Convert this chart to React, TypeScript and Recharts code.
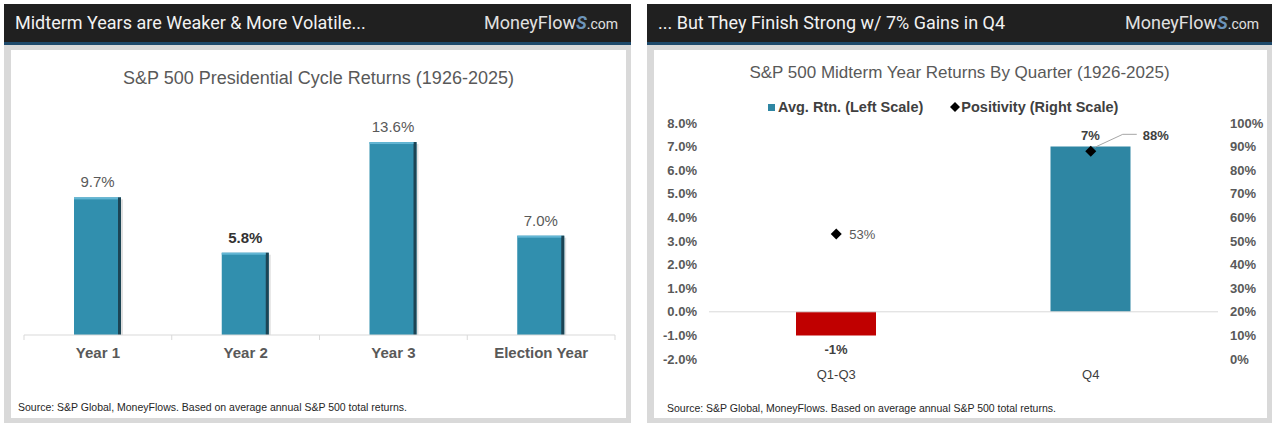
import React from 'react';
import {
  BarChart,
  ComposedChart,
  Bar,
  Scatter,
  XAxis,
  YAxis,
  LabelList,
  ReferenceLine,
  Cell
} from 'recharts';

// presidential cycle (left panel)
const cycleYears = ['Year 1', 'Year 2', 'Year 3', 'Election Year'];
const cycleReturns = [9.7, 5.8, 13.6, 7.0];

// midterm year by quarter (right panel)
const quarters = ['Q1-Q3', 'Q4'];
const quarterReturns = [-1, 7];
const quarterPositivity = [53, 88];
const returnTicks = [-2, -1, 0, 1, 2, 3, 4, 5, 6, 7, 8];
const positivityTicks = [0, 10, 20, 30, 40, 50, 60, 70, 80, 90, 100];

const FONT = '"Liberation Sans", Arial, sans-serif';
const TEAL = '#318fae';
const TEAL_Q4 = '#2e86a3';
const RED = '#c00000';
const GREY_TXT = '#595959';

const cycleData = cycleYears.map((name, i) => ({ name, value: cycleReturns[i] }));
const quarterData = quarters.map((name, i) => ({
  name,
  ret: quarterReturns[i],
  pos: quarterPositivity[i]
}));

function Panel(props: { left: number; width: number; heading: string; children?: React.ReactNode }) {
  return (
    <div
      style={{
        position: 'absolute',
        left: props.left,
        top: 4,
        width: props.width,
        height: 419,
        background: '#d9d9d9'
      }}
    >
      <div
        style={{
          position: 'absolute',
          left: 0,
          top: 0,
          width: props.width,
          height: 38,
          background: '#202020',
          borderBottom: '3px solid #1e4a6b'
        }}
      >
        <div
          style={{
            position: 'absolute',
            left: 11,
            top: 8,
            fontFamily: 'Roboto, sans-serif',
            fontSize: 18,
            color: '#f2f2f2',
            whiteSpace: 'nowrap'
          }}
        >
          {props.heading}
        </div>
        <div
          style={{
            position: 'absolute',
            right: 13,
            top: 8,
            fontFamily: 'Roboto, sans-serif',
            fontSize: 18,
            color: '#e0e0e0',
            whiteSpace: 'nowrap'
          }}
        >
          MoneyFlow
          <span style={{ color: '#6d95bb', fontStyle: 'italic', fontWeight: 700 }}>S</span>
          <span style={{ fontSize: 14 }}>.com</span>
        </div>
      </div>
      <div
        style={{
          position: 'absolute',
          left: 7,
          top: 46,
          width: props.width - 12,
          height: 368,
          background: '#ffffff'
        }}
      />
      {props.children}
    </div>
  );
}

function ShadedBar(props: any) {
  const { x, y, width, height } = props;
  if (!height) return null;
  return (
    <g>
      <rect x={x + 2} y={y + 2} width={width} height={height - 2} fill='#000' opacity={0.12} />
      <rect x={x} y={y} width={width} height={height} fill={TEAL} />
      <rect x={x + width - 3} y={y} width={3} height={height} fill='#1c4454' />
      <rect x={x} y={y} width={width - 3} height={2} fill='#63b6d4' />
    </g>
  );
}

function CycleLabel(props: any) {
  const { x, y, width, value, index } = props;
  const bold = index === 1;
  return (
    <text
      x={x + width / 2}
      y={y - 10}
      textAnchor='middle'
      fontFamily={FONT}
      fontSize={15}
      fontWeight={bold ? 700 : 400}
      fill={bold ? '#333' : GREY_TXT}
    >
      {value.toFixed(1)}%
    </text>
  );
}

function CycleTick(props: any) {
  const { x, y, payload, index } = props;
  const half = payload.offset || 73.5;
  return (
    <g>
      <text
        x={x}
        y={y + 23}
        textAnchor='middle'
        fontFamily={FONT}
        fontSize={15}
        fontWeight={700}
        fill={GREY_TXT}
      >
        {payload.value}
      </text>
      {index === 0 && <line x1={x - half} x2={x - half} y1={y} y2={y + 5} stroke='#d9d9d9' />}
      <line x1={x + half} x2={x + half} y1={y} y2={y + 5} stroke='#d9d9d9' />
    </g>
  );
}

function QuarterTick(props: any) {
  const { x, y, payload } = props;
  return (
    <text x={x} y={y + 20} textAnchor='middle' fontFamily={FONT} fontSize={13} fill='#404040'>
      {payload.value}
    </text>
  );
}

function ReturnLabel(props: any) {
  const { x, y, width, height, value } = props;
  const top = Math.min(y, y + height);
  const bottom = Math.max(y, y + height);
  const ty = value < 0 ? bottom + 19 : top - 7;
  return (
    <text x={x + width / 2} y={ty} textAnchor='middle' fontFamily={FONT} fontSize={13} fontWeight={700} fill='#404040'>
      {value}%
    </text>
  );
}

function Diamond(props: any) {
  const { cx, cy, payload } = props;
  const s = 5.5;
  const d = `M${cx},${cy - s}L${cx + s},${cy}L${cx},${cy + s}L${cx - s},${cy}Z`;
  const leader = payload.pos > 70;
  return (
    <g>
      <path d={d} fill='#000' />
      {leader ? (
        <g>
          <polyline
            points={`${cx + 4},${cy - 4} ${cx + 32},${cy - 17} ${cx + 46},${cy - 17}`}
            fill='none'
            stroke='#a6a6a6'
          />
          <text x={cx + 52} y={cy - 11} fontFamily={FONT} fontSize={13} fontWeight={700} fill='#404040'>
            {payload.pos}%
          </text>
        </g>
      ) : (
        <text x={cx + 13} y={cy + 5} fontFamily={FONT} fontSize={13} fill={GREY_TXT}>
          {payload.pos}%
        </text>
      )}
    </g>
  );
}

const axisTick = { fontFamily: FONT, fontSize: 13, fontWeight: 700, fill: GREY_TXT };

export default function App() {
  return (
    <div style={{ position: 'absolute', left: 0, top: 0, width: 1277, height: 427, background: '#fff' }}>
      <Panel left={4} width={627} heading='Midterm Years are Weaker & More Volatile...' />
      <Panel left={647} width={625} heading='... But They Finish Strong w/ 7% Gains in Q4' />

      {/* left chart */}
      <div
        style={{
          position: 'absolute',
          left: 11,
          width: 615,
          top: 68,
          textAlign: 'center',
          fontFamily: FONT,
          fontSize: 18,
          color: GREY_TXT
        }}
      >
        S&amp;P 500 Presidential Cycle Returns (1926-2025)
      </div>
      <div style={{ position: 'absolute', left: 0, top: 0 }}>
        <BarChart width={640} height={427} data={cycleData} margin={{ top: 108, right: 25, bottom: 62, left: 24 }}>
          <XAxis
            dataKey='name'
            height={30}
            tickSize={0}
            tickMargin={0}
            tickLine={false}
            axisLine={{ stroke: '#d9d9d9' }}
            tick={<CycleTick />}
            interval={0}
          />
          <YAxis hide domain={[0, 16]} />
          <Bar dataKey='value' barSize={47} shape={<ShadedBar />} isAnimationActive={false}>
            <LabelList dataKey='value' content={<CycleLabel />} />
          </Bar>
        </BarChart>
      </div>
      <div
        style={{
          position: 'absolute',
          left: 18,
          top: 401,
          fontFamily: FONT,
          fontSize: 10.5,
          color: '#262626',
          whiteSpace: 'nowrap'
        }}
      >
        Source: S&amp;P Global, MoneyFlows. Based on average annual S&amp;P 500 total returns.
      </div>

      {/* right chart */}
      <div
        style={{
          position: 'absolute',
          left: 652,
          width: 615,
          top: 63,
          textAlign: 'center',
          fontFamily: FONT,
          fontSize: 17,
          color: GREY_TXT
        }}
      >
        S&amp;P 500 Midterm Year Returns By Quarter (1926-2025)
      </div>
      <div
        style={{
          position: 'absolute',
          left: 768,
          top: 99,
          fontFamily: FONT,
          fontSize: 14.5,
          fontWeight: 700,
          color: '#404040',
          whiteSpace: 'nowrap',
          display: 'flex',
          alignItems: 'center'
        }}
      >
        <span style={{ display: 'inline-block', width: 7, height: 7, background: TEAL_Q4, marginRight: 3 }} />
        <span>Avg. Rtn. (Left Scale)</span>
        <svg width={10} height={10} style={{ marginLeft: 27, marginRight: 1 }}>
          <path d='M5,0L10,5L5,10L0,5Z' fill='#000' />
        </svg>
        <span>Positivity (Right Scale)</span>
      </div>
      <div style={{ position: 'absolute', left: 640, top: 0 }}>
        <ComposedChart
          width={637}
          height={427}
          data={quarterData}
          margin={{ top: 123, right: 9, bottom: 38, left: 9 }}
        >
          <XAxis
            dataKey='name'
            height={30}
            axisLine={false}
            tickLine={false}
            tickSize={0}
            tickMargin={0}
            tick={<QuarterTick />}
            interval={0}
          />
          <YAxis
            yAxisId='left'
            width={60}
            domain={[-2, 8]}
            ticks={returnTicks}
            tickFormatter={(v: number) => `${v.toFixed(1)}%`}
            axisLine={false}
            tickLine={false}
            tickSize={0}
            tickMargin={12}
            tick={axisTick}
            interval={0}
          />
          <YAxis
            yAxisId='right'
            orientation='right'
            width={50}
            domain={[0, 100]}
            ticks={positivityTicks}
            tickFormatter={(v: number) => `${v}%`}
            axisLine={false}
            tickLine={false}
            tickSize={0}
            tickMargin={12}
            tick={{ ...axisTick, textAnchor: 'start' }}
            interval={0}
          />
          <ReferenceLine yAxisId='left' y={0} stroke='#d9d9d9' />
          <Bar yAxisId='left' dataKey='ret' barSize={80} isAnimationActive={false}>
            {quarterData.map((d, i) => (
              <Cell key={i} fill={d.ret < 0 ? RED : TEAL_Q4} />
            ))}
            <LabelList dataKey='ret' content={<ReturnLabel />} />
          </Bar>
          <Scatter yAxisId='right' dataKey='pos' shape={<Diamond />} isAnimationActive={false} />
        </ComposedChart>
      </div>
      <div
        style={{
          position: 'absolute',
          left: 667,
          top: 402,
          fontFamily: FONT,
          fontSize: 10.5,
          color: '#262626',
          whiteSpace: 'nowrap'
        }}
      >
        Source: S&amp;P Global, MoneyFlows. Based on average annual S&amp;P 500 total returns.
      </div>
    </div>
  );
}
